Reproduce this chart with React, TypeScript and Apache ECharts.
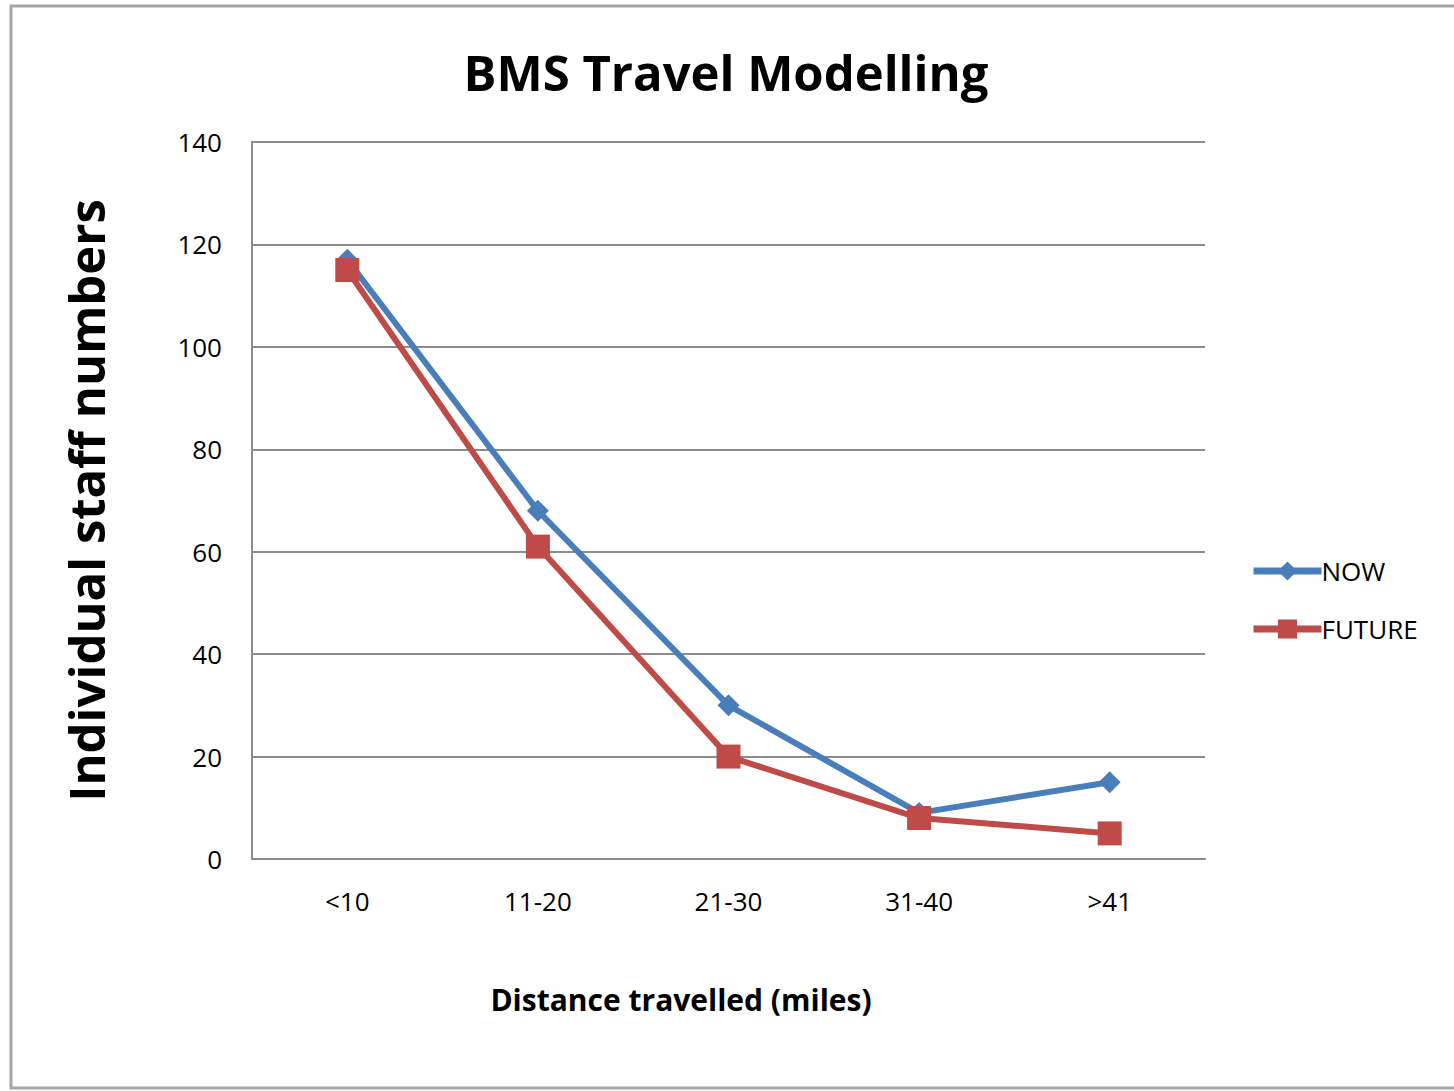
import React, { useEffect, useRef } from "react";
import * as echarts from "echarts";

const categories = ["<10", "11-20", "21-30", "31-40", ">41"];
const nowValues = [117, 68, 30, 9, 15];
const futureValues = [115, 61, 20, 8, 5];
const yTicks = { min: 0, max: 140, interval: 20 };

const FONT = "'Open Sans', 'Liberation Sans', sans-serif";

export default function App() {
  const ref = useRef<HTMLDivElement>(null);
  useEffect(() => {
    if (!ref.current) return;
    const chart = echarts.init(ref.current, null, { renderer: "svg" });
    chart.setOption({
      animation: false,
      backgroundColor: "#ffffff",
      textStyle: { fontFamily: FONT },
      title: {
        text: "BMS Travel Modelling",
        left: 721,
        top: 42,
        textAlign: "center",
        textStyle: { fontSize: 49, fontWeight: "bold", color: "#000", fontFamily: FONT },
      },
      grid: { left: 252, top: 142, width: 953, height: 717, containLabel: false },
      legend: {
        orient: "vertical",
        left: 1250,
        top: 558,
        padding: 0,
        itemWidth: 68,
        itemHeight: 24,
        itemGap: 32,
        lineStyle: { width: 7 },
        textStyle: { fontSize: 26, color: "#000", fontFamily: FONT, padding: [0, 0, 0, -5] },
        data: ["NOW", "FUTURE"],
      },
      xAxis: {
        type: "category",
        data: categories,
        boundaryGap: true,
        axisLine: { show: true, lineStyle: { color: "#8c8c8c", width: 2 } },
        axisTick: { show: false },
        axisLabel: { fontSize: 26, color: "#000", margin: 29, fontFamily: FONT },
      },
      yAxis: {
        type: "value",
        min: yTicks.min,
        max: yTicks.max,
        interval: yTicks.interval,
        name: "Individual staff numbers",
        nameLocation: "middle",
        nameGap: 142,
        nameTextStyle: { fontSize: 49, fontWeight: "bold", color: "#000", fontFamily: FONT },
        axisLine: { show: true, lineStyle: { color: "#8c8c8c", width: 2 } },
        axisTick: { show: false },
        axisLabel: { fontSize: 26, color: "#000", margin: 30, fontFamily: FONT },
        splitLine: { show: true, lineStyle: { color: "#8c8c8c", width: 2 } },
      },
      series: [
        {
          name: "NOW",
          type: "line",
          data: nowValues,
          symbol: "diamond",
          symbolSize: 22,
          lineStyle: { color: "#4a7ebb", width: 6 },
          itemStyle: { color: "#4a7ebb" },
          z: 2,
        },
        {
          name: "FUTURE",
          type: "line",
          data: futureValues,
          symbol: "rect",
          symbolSize: 24,
          lineStyle: { color: "#be4b48", width: 6 },
          itemStyle: { color: "#be4b48" },
          z: 3,
        },
      ],
      graphic: [
        {
          type: "rect",
          shape: { x: 11, y: 6, width: 1460, height: 1082 },
          style: { fill: "none", stroke: "#a6a6a6", lineWidth: 3 },
          silent: true,
        },
        {
          type: "text",
          x: 681,
          y: 999,
          style: {
            text: "Distance travelled (miles)",
            fontSize: 30,
            fontWeight: "bold",
            fill: "#000",
            fontFamily: FONT,
            align: "center",
            verticalAlign: "middle",
          },
        },
      ],
    });
    return () => chart.dispose();
  }, []);
  return (
    <div
      ref={ref}
      style={{ position: "absolute", left: 0, top: 0, width: 1454, height: 1091 }}
    />
  );
}
